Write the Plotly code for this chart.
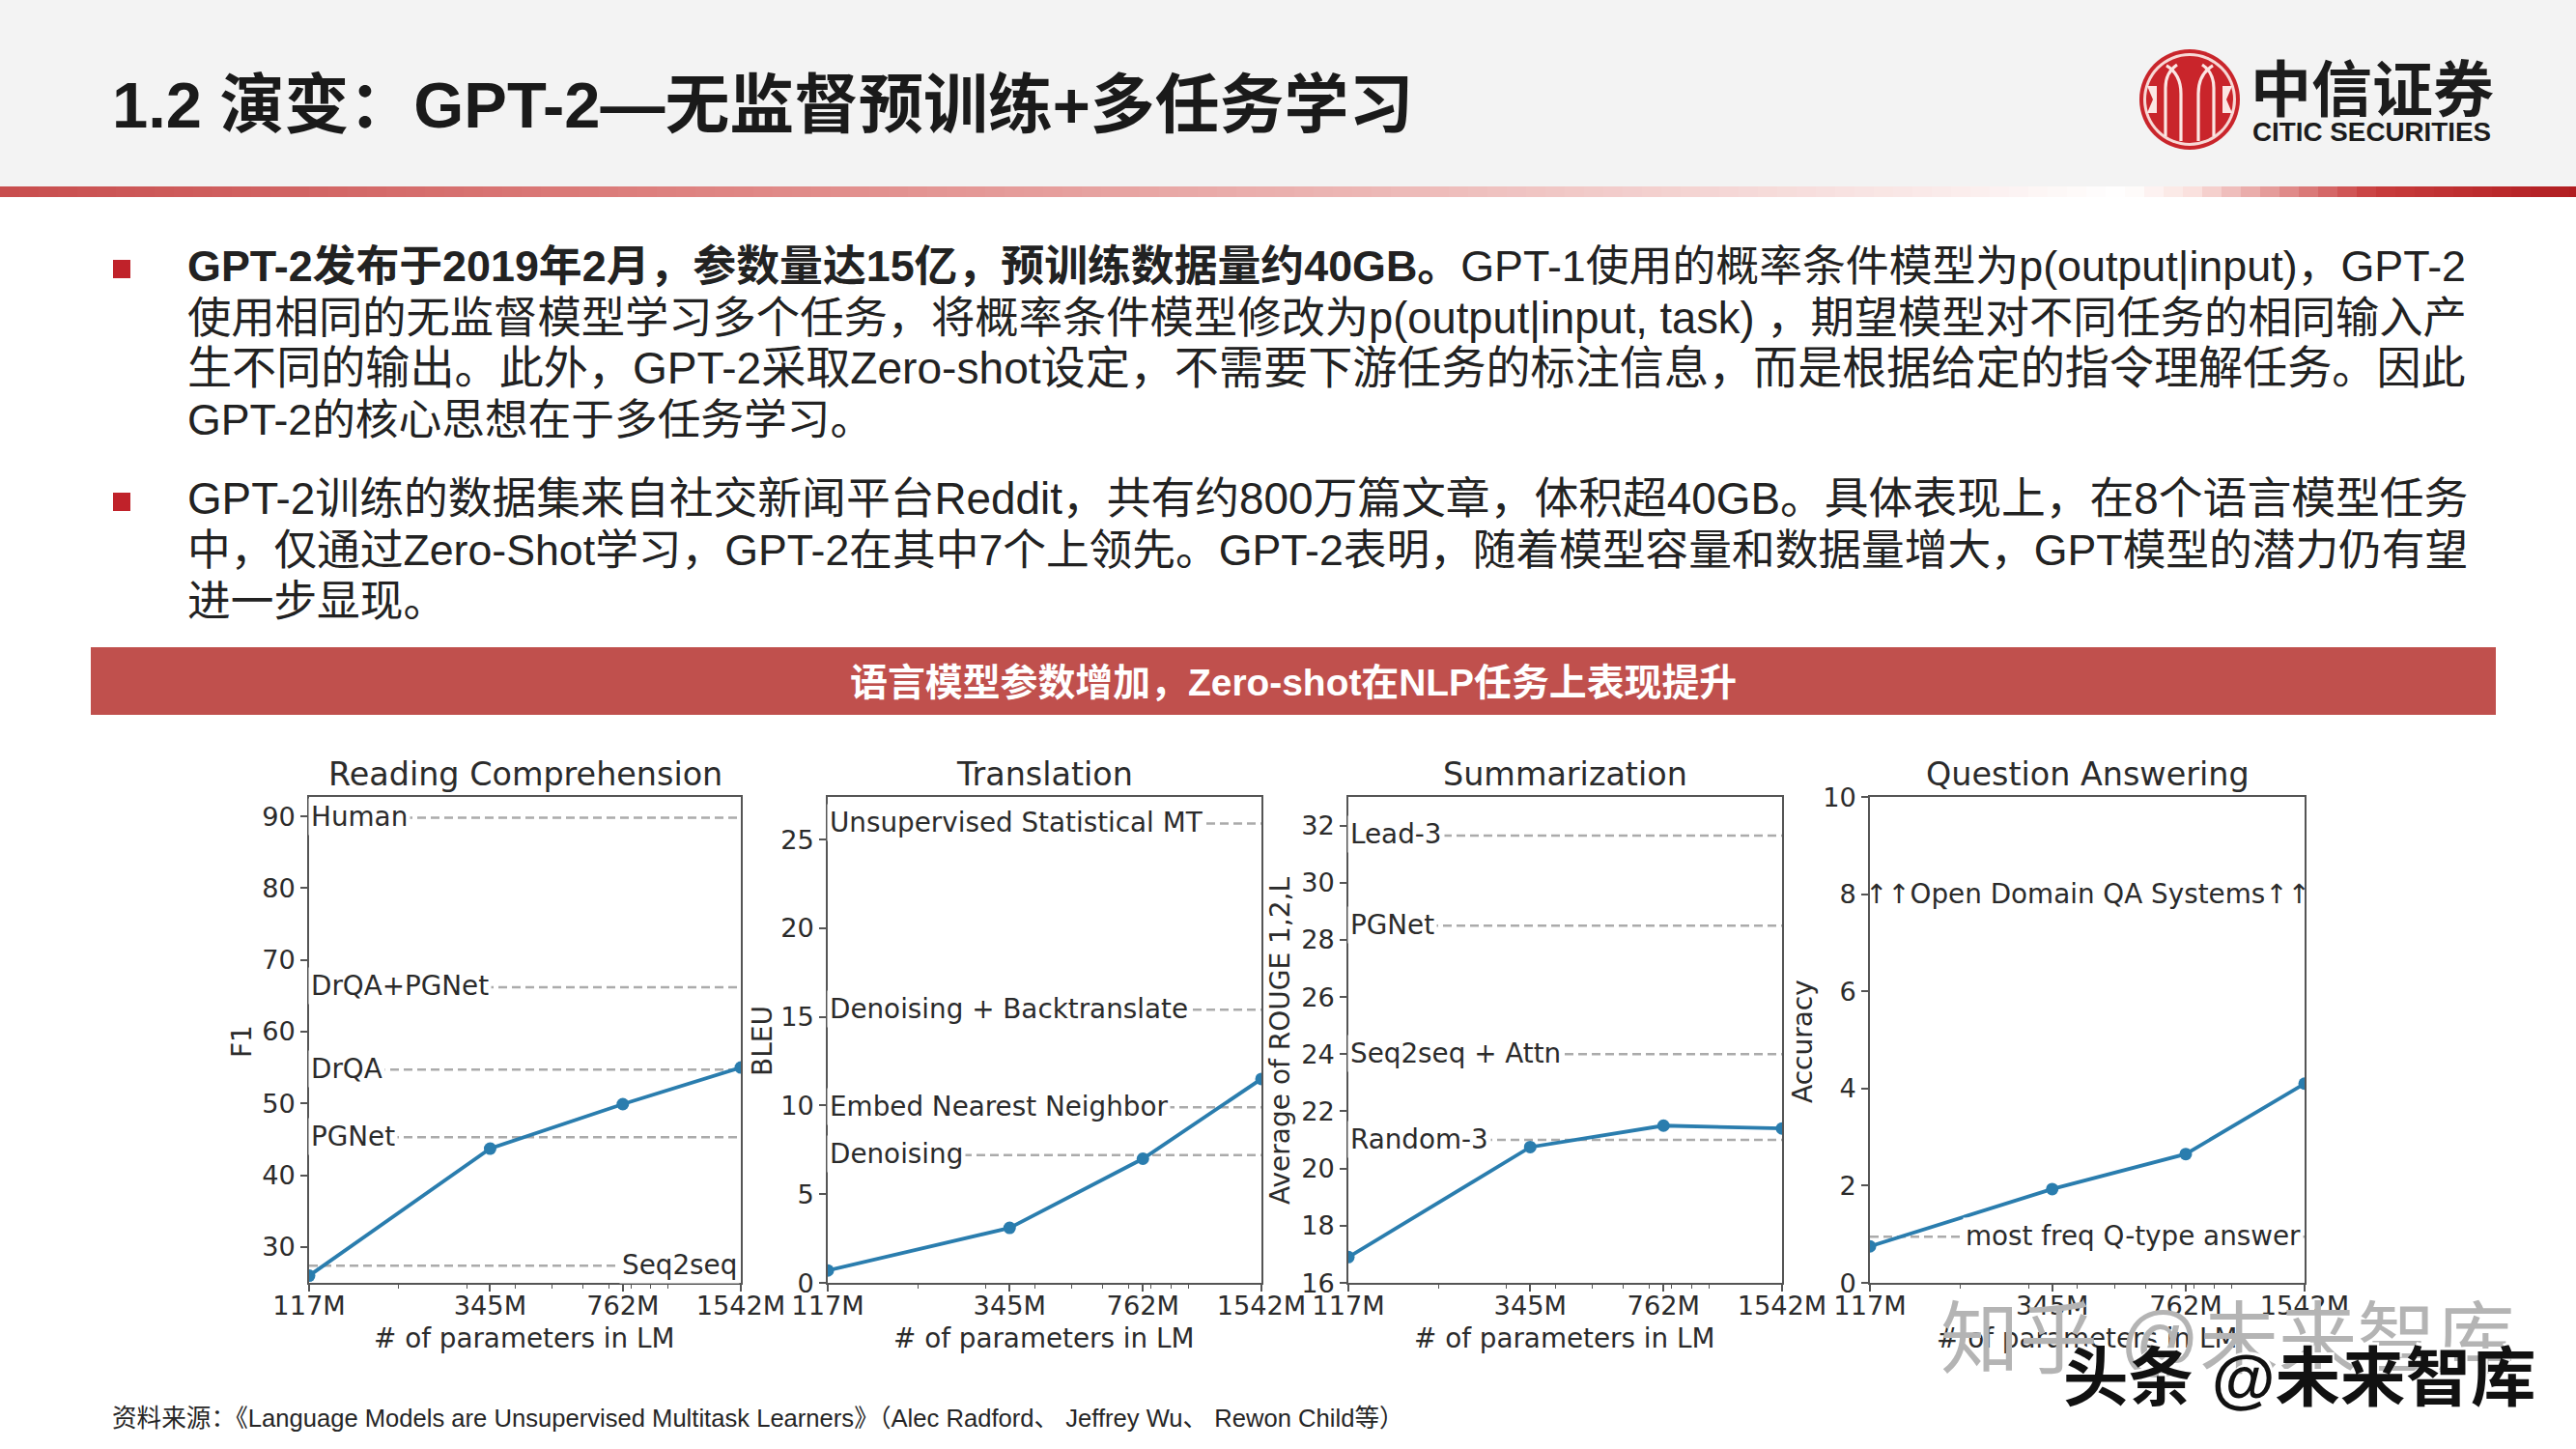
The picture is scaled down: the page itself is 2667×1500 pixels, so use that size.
import math
import plotly.graph_objects as go

W, H = 2667, 1500

# ---- data ----
param_labels = ["117M", "345M", "762M", "1542M"]
param_values = [117, 345, 762, 1542]
minor_ticks = [200, 300, 400, 500, 600, 700, 800, 900, 1000]

panel_titles = ["Reading Comprehension", "Translation", "Summarization", "Question Answering"]
y_titles = ["F1", "BLEU", "Average of ROUGE 1,2,L", "Accuracy"]

reading_scores = [26.0, 43.7, 49.9, 55.0]
translation_scores = [0.7, 3.1, 7.0, 11.5]
summarization_scores = [16.9, 20.75, 21.5, 21.4]
qa_scores = [0.75, 1.93, 2.65, 4.1]

reading_refs = [("Human", 89.8), ("DrQA+PGNet", 66.2), ("DrQA", 54.7), ("PGNet", 45.3)]
reading_refs_right = [("Seq2seq", 27.4)]
translation_refs = [("Unsupervised Statistical MT", 25.9), ("Denoising + Backtranslate", 15.4),
                    ("Embed Nearest Neighbor", 9.9), ("Denoising", 7.2)]
summarization_refs = [("Lead-3", 31.65), ("PGNet", 28.5), ("Seq2seq + Attn", 24.0), ("Random-3", 21.0)]
qa_refs_right = [("most freq Q-type answer", 0.95)]
qa_note = ("↑↑Open Domain QA Systems↑↑", 8.0)

reading_ticks = [30, 40, 50, 60, 70, 80, 90]
translation_ticks = [0, 5, 10, 15, 20, 25]
summarization_ticks = [16, 18, 20, 22, 24, 26, 28, 30, 32]
qa_ticks = [0, 2, 4, 6, 8, 10]

title_text = "1.2 演变：GPT-2—无监督预训练+多任务学习"
banner_text = "语言模型参数增加，Zero-shot在NLP任务上表现提升"
source_text = "资料来源：《Language Models are Unsupervised Multitask Learners》（Alec Radford、 Jeffrey Wu、 Rewon Child等）"
body_lines = [
    "<b>GPT-2发布于2019年2月，参数量达15亿，预训练数据量约40GB。</b>GPT-1使用的概率条件模型为p(output|input)，GPT-2",
    "使用相同的无监督模型学习多个任务，将概率条件模型修改为p(output|input, task) ，期望模型对不同任务的相同输入产",
    "生不同的输出。此外，GPT-2采取Zero-shot设定，不需要下游任务的标注信息，而是根据给定的指令理解任务。因此",
    "GPT-2的核心思想在于多任务学习。",
    "GPT-2训练的数据集来自社交新闻平台Reddit，共有约800万篇文章，体积超40GB。具体表现上，在8个语言模型任务",
    "中，仅通过Zero-Shot学习，GPT-2在其中7个上领先。GPT-2表明，随着模型容量和数据量增大，GPT模型的潜力仍有望",
    "进一步显现。",
]

# ---- layout helpers ----
def px(x):
    return x / W

def py(y):
    return 1 - y / H

SANS = "Liberation Sans, Noto Sans CJK SC, sans-serif"
PLOT = "DejaVu Sans, sans-serif"
BLUE = "#2a7dae"
DASH = "#ababab"
INK = "#2b2b2b"
FS = 27.2
FS_LABEL = 27.8

fig = go.Figure()
shapes = []
ann = []

def rect(x0, y0, x1, y1, color):
    shapes.append(dict(type="rect", xref="paper", yref="paper", x0=px(x0), x1=px(x1), y0=py(y1), y1=py(y0),
                       fillcolor=color, line=dict(width=0), layer="below"))

def text(x, y, s, size, color=INK, anchor="left", family=SANS, angle=0, **kw):
    ann.append(dict(xref="paper", yref="paper", x=px(x), y=py(y), text=s, showarrow=False, xanchor=anchor,
                    yanchor="middle", textangle=angle, font=dict(size=size, color=color, family=family, **kw)))

# header band, gradient rule
rect(0, 0, W, 193, "#f3f3f3")
stops = [(0, (200, 78, 78)), (700, (222, 130, 128)), (1500, (238, 190, 188)), (2000, (250, 235, 234)),
         (2190, (255, 255, 255)), (2260, (250, 225, 222)), (2450, (200, 60, 60)), (2667, (176, 28, 32))]
step = 20
for left in range(0, W, step):
    for (a, ca), (b, cb) in zip(stops, stops[1:]):
        if a <= left <= b:
            t = (left - a) / (b - a)
            c = tuple(round(u + (v - u) * t) for u, v in zip(ca, cb))
            rect(left, 193, left + step + 1, 204, "rgb(%d,%d,%d)" % c)
            break

# logo
LX, LY, LR = 2267, 103, 52
RED = "#c9252b"
def circ(r, color):
    shapes.append(dict(type="circle", xref="paper", yref="paper", x0=px(LX - r), x1=px(LX + r),
                       y0=py(LY + r), y1=py(LY - r), fillcolor=color, line=dict(width=0)))
circ(LR, RED); circ(LR - 4, "#f7d9d6"); circ(LR - 7, RED)
def logo_path(d, w=3.2):
    pts = []
    for cmd, *xy in d:
        s = cmd
        for i in range(0, len(xy), 2):
            s += " %.5f,%.5f" % (px(LX + xy[i]), py(LY + xy[i + 1]))
        pts.append(s)
    shapes.append(dict(type="path", xref="paper", yref="paper", path=" ".join(pts),
                       line=dict(color="#fbe6e3", width=w)))
for sgn in (-1, 1):
    logo_path([("M", sgn * 9, 43), ("L", sgn * 9, -6), ("Q", sgn * 9, -26, sgn * 24, -35)])
    logo_path([("M", sgn * 25, 38), ("L", sgn * 25, -12), ("Q", sgn * 25, -28, sgn * 13, -36)])
    shapes.append(dict(type="path", xref="paper", yref="paper",
                       path="M %.5f,%.5f L %.5f,%.5f L %.5f,%.5f L %.5f,%.5f L %.5f,%.5f L %.5f,%.5f Z" % (
                           px(LX + sgn * 34), py(LY - 14), px(LX + sgn * 44), py(LY - 14), px(LX + sgn * 38), py(LY),
                           px(LX + sgn * 44), py(LY + 14), px(LX + sgn * 34), py(LY + 14), px(LX + sgn * 34), py(LY)),
                       fillcolor="#fbe6e3", line=dict(width=0)))
text(2328, 88, "中信证券", 63, "#1c1c1c", family="Noto Sans CJK SC, serif", weight="bold")
text(2330, 136, "CITIC SECURITIES", 27.8, "#1c1c1c", weight="bold")

# title and body
text(114, 109, title_text, 66.9, "#1a1a1a", weight="bold")
line_ys = [276, 329, 381, 434, 516, 569, 622]
line_sizes = [44.85, 45.3, 46.1, 44.7, 45.8, 44.7, 44.7]
for s, y, fs in zip(body_lines, line_ys, line_sizes):
    text(192, y, s, fs, "#222222")
rect(117, 269, 135, 288, "#c0222a")
rect(117, 510, 135, 529, "#c0222a")

# banner and source
rect(94, 670, 2584, 740, "#c0504d")
text(1339, 706, banner_text, 38.9, "#ffffff", anchor="center", weight="bold")
text(114, 1468, source_text, 25.6, "#262626")

# panels
panel_boxes = [(320, 767), (857, 1306), (1396, 1845), (1936, 2386)]
ytitle_x = [250, 789, 1325, 1866]
TOP, BOTTOM = 825, 1328
y_ranges = [(25, 92.7), (0, 27.4), (16, 33), (0, 10)]
series = [reading_scores, translation_scores, summarization_scores, qa_scores]
y_ticks = [reading_ticks, translation_ticks, summarization_ticks, qa_ticks]
left_refs = [reading_refs, translation_refs, summarization_refs, []]
right_refs = [reading_refs_right, [], [], qa_refs_right]

xr = [math.log10(param_values[0]), math.log10(param_values[-1])]
layout_axes = {}
for i, (box, title) in enumerate(zip(panel_boxes, panel_titles)):
    sfx = "" if i == 0 else str(i + 1)
    xa, ya = "x" + sfx, "y" + sfx
    layout_axes["xaxis" + sfx] = dict(
        domain=[px(box[0]), px(box[1])], anchor=ya, type="log", range=xr, tickmode="array",
        tickvals=param_values, ticktext=param_labels, ticks="outside", ticklen=7, tickwidth=1.5,
        tickcolor="#555", showgrid=False, zeroline=False, mirror=True, showline=True, automargin=False,
        linecolor="#555", linewidth=1.5, tickfont=dict(family=PLOT, size=FS, color=INK), tickangle=0,
        ticklabelstandoff=-8,
        minor=dict(tickmode="array", tickvals=minor_ticks, ticks="outside", ticklen=4, tickwidth=1.2, tickcolor="#555"),
    )
    layout_axes["yaxis" + sfx] = dict(
        domain=[py(BOTTOM), py(TOP)], anchor=xa, range=list(y_ranges[i]), tickmode="array", automargin=False,
        tickvals=y_ticks[i], ticks="outside", ticklen=7, tickwidth=1.5, tickcolor="#555",
        showgrid=False, zeroline=False, mirror=True, showline=True, linecolor="#555", linewidth=1.5,
        tickfont=dict(family=PLOT, size=FS, color=INK),
    )
    for label, val in left_refs[i] + right_refs[i]:
        fig.add_trace(go.Scatter(x=[param_values[0], param_values[-1]], y=[val, val], mode="lines", xaxis=xa, yaxis=ya,
                                 line=dict(color=DASH, width=2.5, dash="9px,5px"), showlegend=False, hoverinfo="skip"))
    fig.add_trace(go.Scatter(x=param_values, y=series[i], mode="lines+markers", xaxis=xa, yaxis=ya,
                             line=dict(color=BLUE, width=3.8), marker=dict(color=BLUE, size=13),
                             showlegend=False))
    text((box[0] + box[1]) / 2, 802, title, 33.4, anchor="center", family=PLOT)
    text((box[0] + box[1]) / 2 - 1, 1385, "# of parameters in LM", FS_LABEL, anchor="center", family=PLOT)
    text(ytitle_x[i], 1078, y_titles[i], 28, anchor="center", family=PLOT, angle=-90)
    for label, val in left_refs[i]:
        ann.append(dict(xref=xa, yref=ya, x=math.log10(param_values[0]), y=val, text=label, showarrow=False,
                        xanchor="left", yanchor="middle", xshift=-1, yshift=1, bgcolor="#ffffff", borderpad=2,
                        font=dict(family=PLOT, size=FS_LABEL, color=INK)))
    for label, val in right_refs[i]:
        ann.append(dict(xref=xa, yref=ya, x=math.log10(param_values[-1]), y=val, text=label, showarrow=False,
                        xanchor="right", yanchor="middle", xshift=-1, yshift=1, bgcolor="#ffffff", borderpad=2,
                        font=dict(family=PLOT, size=FS_LABEL, color=INK)))

ann.append(dict(xref="x4", yref="y4", x=(xr[0] + xr[1]) / 2, y=qa_note[1], text=qa_note[0], showarrow=False,
                xanchor="center", yanchor="middle", font=dict(family=PLOT, size=FS_LABEL, color=INK)))

# watermarks
text(2007, 1386, "知乎 @未来智库", 81.5, "#b4b4b4")
text(2134, 1426, "头条 @未来智库", 67.5, "#111111", weight="bold", shadow="2px -3px 0 #ffffff")

fig.update_layout(width=W, height=H, margin=dict(l=0, r=0, t=0, b=0, autoexpand=False), paper_bgcolor="#ffffff",
                  plot_bgcolor="#ffffff", showlegend=False, shapes=shapes, annotations=ann, **layout_axes)
fig.write_html("out.html", config={"displayModeBar": False},
               post_script="document.body.style.margin='0';document.body.style.overflow='hidden';")
